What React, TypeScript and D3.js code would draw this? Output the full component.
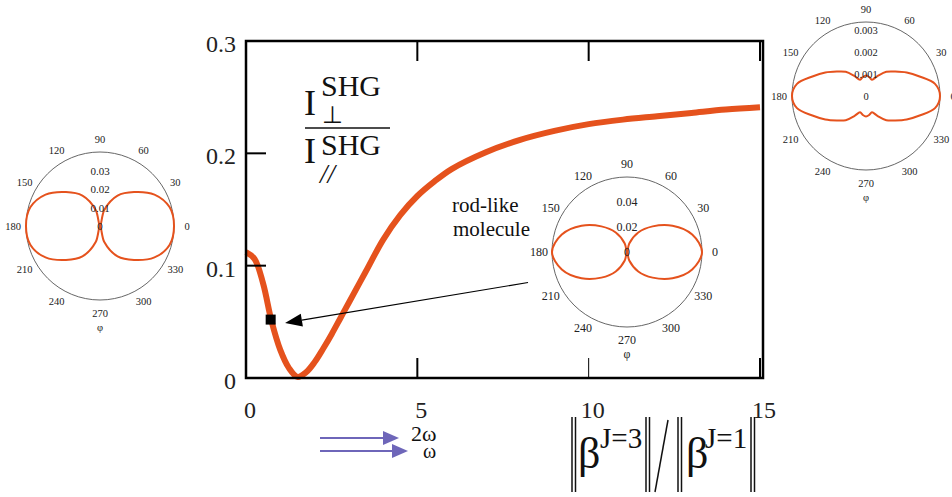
import React from 'react';
import * as d3 from 'd3';

// ---------- main curve data ----------
const ratioX = [0, 0.25, 0.5, 0.75, 1.0, 1.25, 1.5, 1.75, 2.0, 2.25, 2.5, 2.75, 3.0, 3.5, 4.0, 4.5, 5, 5.5, 6, 7, 8, 9, 10, 11, 12, 13, 14, 15];
const ratioY = [0.112, 0.106, 0.084, 0.050, 0.025, 0.009, 0.001, 0.005, 0.014, 0.026, 0.039, 0.053, 0.067, 0.095, 0.123, 0.145, 0.162, 0.175, 0.186, 0.201, 0.212, 0.220, 0.226, 0.230, 0.233, 0.236, 0.239, 0.241];
const xTickValues = [0, 5, 10, 15];
const xTickLabels = ['0', '5', '10', '15'];
const yTickValues = [0, 0.1, 0.2, 0.3];
const yTickLabels = ['0', '0.1', '0.2', '0.3'];
const markerPoint = [0.72, 0.052];
const arrowFrom = [8.23, 0.085];
const arrowTo = [1.14, 0.049];

// ---------- polar insets ----------
const polarAnglesA = [0, 15, 30, 45, 60, 75, 90, 105, 120, 135, 150, 165, 180, 195, 210, 225, 240, 255, 270, 285, 300, 315, 330, 345];
const leftPolarR = [0.040, 0.039, 0.034, 0.026, 0.019, 0.009, 0.0, 0.009, 0.019, 0.026, 0.034, 0.039, 0.040, 0.039, 0.034, 0.026, 0.019, 0.009, 0.0, 0.009, 0.019, 0.026, 0.034, 0.039];
const midPolarR = [0.060, 0.054, 0.042, 0.029, 0.018, 0.007, 0.0, 0.007, 0.018, 0.029, 0.042, 0.054, 0.060, 0.054, 0.042, 0.029, 0.018, 0.007, 0.0, 0.007, 0.018, 0.029, 0.042, 0.054];
const polarAnglesB = [0, 10, 20, 30, 40, 50, 60, 70, 80, 90, 100, 110, 120, 130, 140, 150, 160, 170, 180, 190, 200, 210, 220, 230, 240, 250, 260, 270, 280, 290, 300, 310, 320, 330, 340, 350];
const rightPolarR = [0.00340, 0.00322, 0.00262, 0.00216, 0.00175, 0.00145, 0.00105, 0.00080, 0.00088, 0.00094, 0.00088, 0.00080, 0.00105, 0.00145, 0.00175, 0.00216, 0.00262, 0.00322, 0.00340, 0.00322, 0.00262, 0.00216, 0.00175, 0.00145, 0.00105, 0.00080, 0.00088, 0.00094, 0.00088, 0.00080, 0.00105, 0.00145, 0.00175, 0.00216, 0.00262, 0.00322];
const polarAngleTicks = [0, 30, 60, 90, 120, 150, 180, 210, 240, 270, 300, 330];
const leftRTicks = [0, 0.01, 0.02, 0.03];
const leftRTickLabels = ['0', '0.01', '0.02', '0.03'];
const midRTicks = [0, 0.02, 0.04];
const midRTickLabels = ['0', '0.02', '0.04'];
const rightRTicks = [0, 0.001, 0.002, 0.003];
const rightRTickLabels = ['0', '0.001', '0.002', '0.003'];

const SERIF = '"Liberation Serif", "Times New Roman", serif';
const CURVE = '#e5521d';
const PURPLE = '#6e66b9';

type PolarProps = {
  cx: number; cy: number; R: number; rMax: number;
  angles: number[]; radii: number[];
  rTicks: number[]; rLabels: string[];
  fs: number; rfs: number;
};

function Polar({ cx, cy, R, rMax, angles, radii, rTicks, rLabels, fs, rfs }: PolarProps) {
  const r = d3.scaleLinear().domain([0, rMax]).range([0, R]);
  const line = d3
    .lineRadial<number>()
    .angle((_d, i) => Math.PI / 2 - (angles[i] * Math.PI) / 180)
    .radius((d) => r(d))
    .curve(d3.curveCatmullRomClosed.alpha(0.5));
  const labR = R + 13;
  return (
    <g transform={`translate(${cx},${cy})`}>
      <circle r={R} fill="none" stroke="#555" strokeWidth={0.9} />
      <path d={line(radii) || ''} fill="none" stroke={CURVE} strokeWidth={2} />
      {polarAngleTicks.map((a) => {
        const t = (a * Math.PI) / 180;
        return (
          <text key={a} x={labR * Math.cos(t)} y={-labR * Math.sin(t)} fontSize={fs} style={{ fontFamily: SERIF }}
            textAnchor="middle" dominantBaseline="central" fill="#222">{a}</text>
        );
      })}
      <text x={0} y={labR + 14} fontSize={fs} style={{ fontFamily: SERIF }} textAnchor="middle" dominantBaseline="central" fill="#222">φ</text>
      {rTicks.map((v, i) => (
        <text key={i} x={0} y={-r(v)} fontSize={rfs} style={{ fontFamily: SERIF }} textAnchor="middle" dominantBaseline="central" fill="#222">{rLabels[i]}</text>
      ))}
    </g>
  );
}

export default function App() {
  const x = d3.scaleLinear().domain([0, 15]).range([246, 760]);
  const y = d3.scaleLinear().domain([0, 0.3]).range([378, 41]);
  const pts = ratioX.map((v, i) => [v, ratioY[i]] as [number, number]);
  const line = d3.line<[number, number]>().x((d) => x(d[0])).y((d) => y(d[1])).curve(d3.curveCatmullRom.alpha(0.5));
  const left = x(0), right = x(15) + 3, top = y(0.3), bottom = y(0);

  // annotation arrow
  const ax0 = x(arrowFrom[0]), ay0 = y(arrowFrom[1]);
  const ax1 = x(arrowTo[0]), ay1 = y(arrowTo[1]);
  const ang = Math.atan2(ay1 - ay0, ax1 - ax0);
  const hl = 17, hw = 6.5;
  const bx = ax1 - hl * Math.cos(ang), by = ay1 - hl * Math.sin(ang);
  const head = `M${ax1},${ay1} L${bx + hw * Math.sin(ang)},${by - hw * Math.cos(ang)} L${bx - hw * Math.sin(ang)},${by + hw * Math.cos(ang)} Z`;
  const T = { fontFamily: SERIF };

  return (
    <svg width={952} height={497} style={{ position: 'absolute', left: 0, top: 0, background: '#fff' }}>
      <rect width={952} height={497} fill="#fff" />
      {/* main curve */}
      <path d={line(pts) || ''} fill="none" stroke={CURVE} strokeWidth={6} strokeLinejoin="round" />
      {/* frame */}
      <rect x={left} y={top} width={right - left} height={bottom - top} fill="none" stroke="#000" strokeWidth={2.5} />
      {/* ticks */}
      {yTickValues.filter((v) => v > 0 && v < 0.3).map((v) => (
        <line key={'yt' + v} x1={left} x2={left + 20} y1={y(v)} y2={y(v)} stroke="#000" strokeWidth={2} />
      ))}
      {xTickValues.filter((v) => v > 0).map((v) => (
        <g key={'xt' + v}>
          <line x1={x(v)} x2={x(v)} y1={bottom} y2={bottom - 20} stroke="#000" strokeWidth={v === 10 ? 1 : 2} />
          <line x1={x(v)} x2={x(v)} y1={top} y2={top + 20} stroke="#000" strokeWidth={2} />
        </g>
      ))}
      {yTickValues.map((v, i) => (
        <text key={'yl' + v} x={236} y={y(v) + 3} fontSize={24} style={T} textAnchor="end" dominantBaseline="central" fill="#222">{yTickLabels[i]}</text>
      ))}
      {xTickValues.map((v, i) => (
        <text key={'xl' + v} x={x(v) + 4} y={410} fontSize={24} style={T} textAnchor="middle" dominantBaseline="central" fill="#222">{xTickLabels[i]}</text>
      ))}
      {/* marker */}
      <rect x={x(markerPoint[0]) - 5} y={y(markerPoint[1]) - 5} width={10} height={10} fill="#000" />
      {/* annotation arrow */}
      <line x1={ax0} y1={ay0} x2={bx} y2={by} stroke="#000" strokeWidth={1.2} />
      <path d={head} fill="#000" />
      <text x={452} y={212} fontSize={21} style={T} fill="#111">rod-like</text>
      <text x={453} y={236} fontSize={21} style={T} fill="#111">molecule</text>

      {/* formula */}
      <text x={304} y={115} fontSize={36} style={T} fill="#111">I</text>
      <text x={321} y={96} fontSize={30} style={T} fill="#111">SHG</text>
      <text x={322} y={123} fontSize={24} style={{ fontFamily: '"DejaVu Sans", sans-serif' }} fill="#111">⊥</text>
      <line x1={305} x2={390} y1={128} y2={128} stroke="#111" strokeWidth={1.6} />
      <text x={304} y={163} fontSize={36} style={T} fill="#111">I</text>
      <text x={321} y={155} fontSize={30} style={T} fill="#111">SHG</text>
      <text x={320} y={183} fontSize={27} style={T} fontStyle="italic" fill="#111">//</text>

      {/* polar insets */}
      <Polar cx={100} cy={226} R={74} rMax={0.04} angles={polarAnglesA} radii={leftPolarR} rTicks={leftRTicks} rLabels={leftRTickLabels} fs={10.5} rfs={11} />
      <Polar cx={627} cy={252} R={75} rMax={0.06} angles={polarAnglesA} radii={midPolarR} rTicks={midRTicks} rLabels={midRTickLabels} fs={12} rfs={12} />
      <Polar cx={866} cy={96} R={74} rMax={0.0034} angles={polarAnglesB} radii={rightPolarR} rTicks={rightRTicks} rLabels={rightRTickLabels} fs={10.5} rfs={10.5} />

      {/* beam arrows */}
      <line x1={320} x2={384} y1={438} y2={438} stroke={PURPLE} strokeWidth={1.8} />
      <path d="M383,431 L399,438 L383,445 Z" fill={PURPLE} />
      <line x1={320} x2={393} y1={451} y2={451} stroke={PURPLE} strokeWidth={1.8} />
      <path d="M392,444 L408,451 L392,458 Z" fill={PURPLE} />
      <text x={411} y={441} fontSize={22} style={T} fill="#111">2ω</text>
      <text x={423} y={458} fontSize={20} style={T} fill="#111">ω</text>

      {/* x label: ||β^{J=3}|| / ||β^{J=1}|| */}
      <g stroke="#111" strokeWidth={1.5}>
        <line x1={572} x2={572} y1={417} y2={492} />
        <line x1={575.5} x2={575.5} y1={417} y2={492} />
        <line x1={646} x2={646} y1={417} y2={492} />
        <line x1={649.5} x2={649.5} y1={417} y2={492} />
        <line x1={655} x2={668} y1={492} y2={420} />
        <line x1={678} x2={678} y1={417} y2={492} />
        <line x1={681.5} x2={681.5} y1={417} y2={492} />
        <line x1={751} x2={751} y1={417} y2={492} />
        <line x1={754.5} x2={754.5} y1={417} y2={492} />
      </g>
      <text x={578} y={468} fontSize={44} style={T} fill="#111">β</text>
      <text x={600} y={448} fontSize={29} style={T} fill="#111">J=3</text>
      <text x={686} y={468} fontSize={44} style={T} fill="#111">β</text>
      <text x={705} y={448} fontSize={29} style={T} fill="#111">J=1</text>
    </svg>
  );
}
